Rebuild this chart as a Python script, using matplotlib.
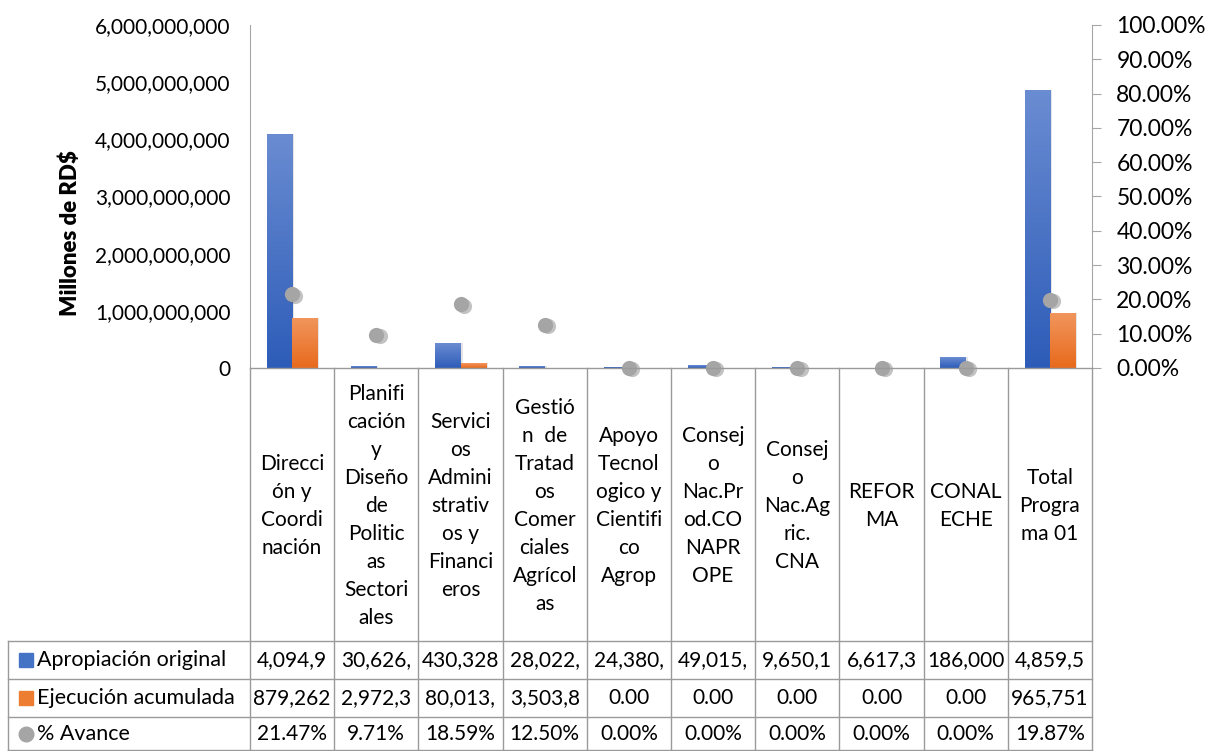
import numpy as np
import matplotlib
matplotlib.use("Agg")
import matplotlib.pyplot as plt
from matplotlib.lines import Line2D
from matplotlib.patches import Rectangle
from matplotlib.transforms import blended_transform_factory
import matplotlib.ticker as ticker

plt.rcParams['font.family'] = ['Lato', 'DejaVu Sans']

# datos
categorias = [
    "Direcci\nón y\nCoordi\nnación",
    "Planifi\ncación\ny\nDiseño\nde\nPolitic\nas\nSectori\nales",
    "Servici\nos\nAdmini\nstrativ\nos y\nFinanci\neros",
    "Gestió\nn  de\nTratad\nos\nComer\nciales\nAgrícol\nas",
    "Apoyo\nTecnol\nogico y\nCientifi\nco\nAgrop",
    "Consej\no\nNac.Pr\nod.CO\nNAPR\nOPE",
    "Consej\no\nNac.Ag\nric.\nCNA",
    "REFOR\nMA",
    "CONAL\nECHE",
    "Total\nProgra\nma 01",
]
apropiacion = [4094950000, 30626400, 430328200, 28022500, 24380100,
               49015600, 9650120, 6617350, 186000000, 4859590000]
ejecucion = [879262300, 2972350, 80013200, 3503850, 0, 0, 0, 0, 0, 965751700]
avance = [0.2147, 0.0971, 0.1859, 0.1250, 0, 0, 0, 0, 0, 0.1987]
series = ["Apropiación original", "Ejecución acumulada", "% Avance"]

W, H = 1212, 751
fig = plt.figure(figsize=(W / 100, H / 100), dpi=100)
ax = fig.add_axes([250 / W, 1 - 368 / H, 842 / W, 343 / H])

x = np.arange(len(categorias))
bw = 0.3
azul_top, azul_bot = np.array([0x6a, 0x8c, 0xd2]) / 255, np.array([0x2d, 0x5c, 0xb8]) / 255
nar_top, nar_bot = np.array([0xf1, 0x96, 0x5e]) / 255, np.array([0xe8, 0x6a, 0x1c]) / 255


def gradient_bars(bars, top, bot):
    grad = np.linspace(0, 1, 256)[:, None, None]
    img = top * (1 - grad) + bot * grad
    for b in bars:
        x0, w, h = b.get_x(), b.get_width(), b.get_height()
        if h <= 0:
            continue
        # sombra
        sh = Rectangle((x0 + 0.025, 0), w, h, color="#000000", alpha=0.10, lw=0, zorder=1)
        ax.add_patch(sh)
        im = ax.imshow(img, extent=(x0, x0 + w, 0, h), aspect="auto", zorder=3, origin="upper")
        im.set_clip_path(b)


b1 = ax.bar(x - bw / 2, apropiacion, bw, color=azul_bot, zorder=2, lw=0)
b2 = ax.bar(x + bw / 2, ejecucion, bw, color=nar_bot, zorder=2, lw=0)
gradient_bars(b1, azul_top, azul_bot)
gradient_bars(b2, nar_top, nar_bot)

ax.set_xlim(-0.5, len(categorias) - 0.5)
ax.set_ylim(0, 6e9)
ax.yaxis.set_major_locator(ticker.MultipleLocator(1e9))
ax.yaxis.set_major_formatter(ticker.FuncFormatter(lambda v, p: f"{v:,.0f}"))
ax.tick_params(axis="y", length=0, pad=14, labelsize=15)
ax.set_xticks([])
for s in ["top", "right", "bottom"]:
    ax.spines[s].set_visible(False)
ax.spines["left"].set_color("#a6a6a6")
ax.set_ylabel("Millones de RD$", fontsize=16, fontweight="heavy")
ax.yaxis.set_label_coords((81 - 250) / 842, (368 - 233) / 343)

ax2 = ax.twinx()
ax2.scatter(x + 0.04, np.array(avance) - 0.004, s=120, color="#555555", alpha=0.35,
            lw=0, zorder=4, clip_on=False)
ax2.scatter(x, avance, s=120, color="#a5a5a5", lw=0, zorder=5, clip_on=False)
ax2.set_ylim(0, 1)
ax2.yaxis.set_major_locator(ticker.MultipleLocator(0.1))
ax2.yaxis.set_major_formatter(ticker.FuncFormatter(lambda v, p: f"{v * 100:.2f}%"))
ax2.tick_params(axis="y", length=6.5, color="#a6a6a6", pad=11, labelsize=16.5, direction="out")
for s in ["top", "left", "bottom"]:
    ax2.spines[s].set_visible(False)
ax2.spines["right"].set_color("#a6a6a6")

# tabla de datos
tr = blended_transform_factory(ax.transData, fig.transFigure)
fy = lambda py: 1 - py / H
lc = "#9a9a9a"
y_top, y_r1, y_r2, y_r3, y_bot = 368, 641, 679, 717, 750
edges = np.arange(len(categorias) + 1) - 0.5
for e in edges:
    fig.add_artist(Line2D([e, e], [fy(y_top), fy(y_bot)], transform=tr, color=lc, lw=1))
fig.add_artist(Line2D([-0.5, edges[-1]], [fy(y_top)] * 2, transform=tr, color=lc, lw=1))
for yy in [y_r1, y_r2, y_r3, y_bot]:
    fig.add_artist(Line2D([8 / W, 1092 / W], [fy(yy)] * 2, transform=fig.transFigure, color=lc, lw=1))
fig.add_artist(Line2D([8 / W, 8 / W], [fy(y_r1), fy(y_bot)], transform=fig.transFigure, color=lc, lw=1))

for i, c in enumerate(categorias):
    ax.text(x[i], fy((y_top + y_r1) / 2 + 2), c, transform=tr, ha="center", va="center",
            fontsize=15, linespacing=1.5)


def celda(v, pct=False):
    if pct:
        return f"{v * 100:.2f}%"
    if v == 0:
        return "0.00"
    return f"{v:,.2f}"[:7]


filas = [(apropiacion, False), (ejecucion, False), (avance, True)]
marcas = ["s", "s", "o"]
colores = ["#4472c4", "#ed7d31", "#a5a5a5"]
for r, (vals, pct) in enumerate(filas):
    yc = ([y_r1, y_r2, y_r3][r] + [y_r2, y_r3, y_bot][r]) / 2
    for i, v in enumerate(vals):
        ax.text(x[i], fy(yc), celda(v, pct), transform=tr, ha="center", va="center", fontsize=15)
    fig.add_artist(Line2D([26 / W], [fy(yc)], marker=marcas[r], color=colores[r], ms=10 if r < 2 else 10.5,
                          lw=0, transform=fig.transFigure))
    fig.text(37 / W, fy(yc), series[r], ha="left", va="center", fontsize=15.5)

fig.savefig("out.png", dpi=100)
